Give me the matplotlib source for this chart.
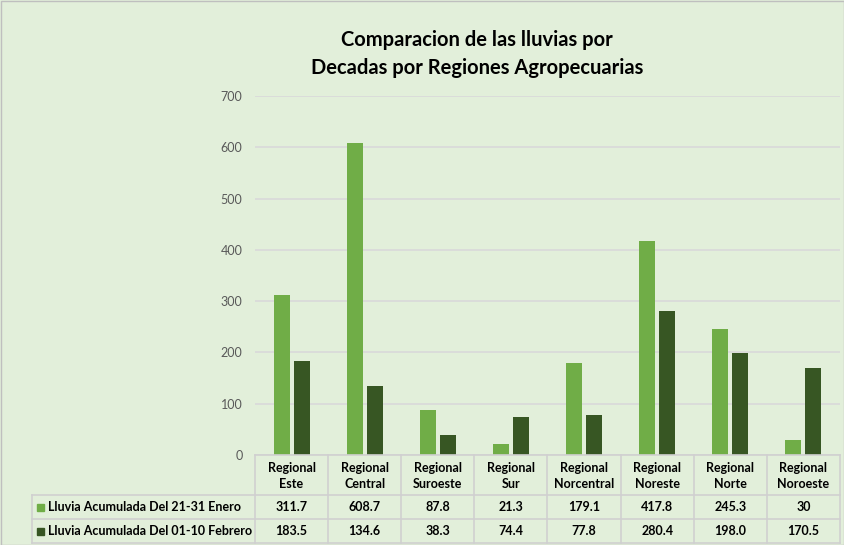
import numpy as np
import matplotlib
matplotlib.use("Agg")
import matplotlib.pyplot as plt
from matplotlib.patches import Rectangle

plt.rcParams['font.family'] = ['Lato', 'DejaVu Sans']

# data
regiones = ["Regional\nEste", "Regional\nCentral", "Regional\nSuroeste", "Regional\nSur",
            "Regional\nNorcentral", "Regional\nNoreste", "Regional\nNorte", "Regional\nNoroeste"]
enero = [311.7, 608.7, 87.8, 21.3, 179.1, 417.8, 245.3, 30]
febrero = [183.5, 134.6, 38.3, 74.4, 77.8, 280.4, 198.0, 170.5]
enero_txt = ["311.7", "608.7", "87.8", "21.3", "179.1", "417.8", "245.3", "30"]
febrero_txt = ["183.5", "134.6", "38.3", "74.4", "77.8", "280.4", "198.0", "170.5"]
series = ["Lluvia Acumulada Del 21-31 Enero", "Lluvia Acumulada Del 01-10 Febrero"]

c_light = "#70AD47"
c_dark = "#375623"
bg = "#E2EFDA"
grid_c = "#D9D9D9"

W, H = 845, 545
fig = plt.figure(figsize=(W / 100, H / 100), dpi=100)
fig.patch.set_facecolor(bg)
fig.patches.append(Rectangle((0.5 / W, 0.5 / H), 1 - 1 / W, 1 - 1 / H, transform=fig.transFigure,
                             fill=False, edgecolor="#BFBFBF", lw=1))

# plot area in pixels
x0, x1 = 255, 840
y_top, y_zero = 96, 455
ax = fig.add_axes([x0 / W, (H - y_zero) / H, (x1 - x0) / W, (y_zero - y_top) / H])
ax.set_facecolor(bg)
n = len(regiones)
x = np.arange(n)
bw = 0.22
off = 0.137
ax.bar(x - off, enero, bw, color=c_light, zorder=3)
ax.bar(x + off, febrero, bw, color=c_dark, zorder=3)
ax.set_xlim(-0.5, n - 0.5)
ax.set_ylim(0, 700)
ax.set_yticks(range(0, 701, 100))
ax.yaxis.grid(True, color=grid_c, lw=1.2, zorder=0)
ax.tick_params(axis='y', length=0, labelsize=9, labelcolor="#595959", pad=9)
ax.set_xticks([])
for s in ax.spines.values():
    s.set_visible(False)

# title
fig.text(477 / W, 1 - 54 / H, "Comparacion de las lluvias por\nDecadas por Regiones Agropecuarias",
         ha="center", va="center", fontsize=14.5, fontweight="bold", linespacing=1.45)

# data table
tab = fig.add_axes([0, 0, 1, 1], facecolor="none")
tab.set_xlim(0, W)
tab.set_ylim(H, 0)
tab.axis("off")
cw = (x1 - x0) / n
rows = [455, 495, 519, 543]
lc = "#D0D0D0"
leg_x = 32
# horizontal lines
tab.plot([x0, x1], [rows[0], rows[0]], color=lc, lw=1.2)
for yy in rows[1:]:
    tab.plot([leg_x, x1], [yy, yy], color=lc, lw=1.2)
# vertical lines
for i in range(n + 1):
    tab.plot([x0 + i * cw] * 2, [rows[0], rows[3]], color=lc, lw=1.2)
tab.plot([leg_x, leg_x], [rows[1], rows[3]], color=lc, lw=1.2)

fs = 9
for i in range(n):
    cx = x0 + (i + 0.5) * cw
    tab.text(cx, (rows[0] + rows[1]) / 2 + 1, regiones[i], ha="center", va="center",
             fontsize=fs, fontweight="bold", linespacing=1.35)
    tab.text(cx, (rows[1] + rows[2]) / 2, enero_txt[i], ha="center", va="center",
             fontsize=fs, fontweight="bold")
    tab.text(cx, (rows[2] + rows[3]) / 2, febrero_txt[i], ha="center", va="center",
             fontsize=fs, fontweight="bold")

for r, (lab, col) in enumerate(zip(series, [c_light, c_dark])):
    yc = (rows[r + 1] + rows[r + 2]) / 2
    tab.add_patch(Rectangle((37, yc - 3.5), 7, 7, color=col))
    tab.text(48, yc, lab, ha="left", va="center", fontsize=fs, fontweight="bold")

fig.savefig("out.png", dpi=100, facecolor=bg)
